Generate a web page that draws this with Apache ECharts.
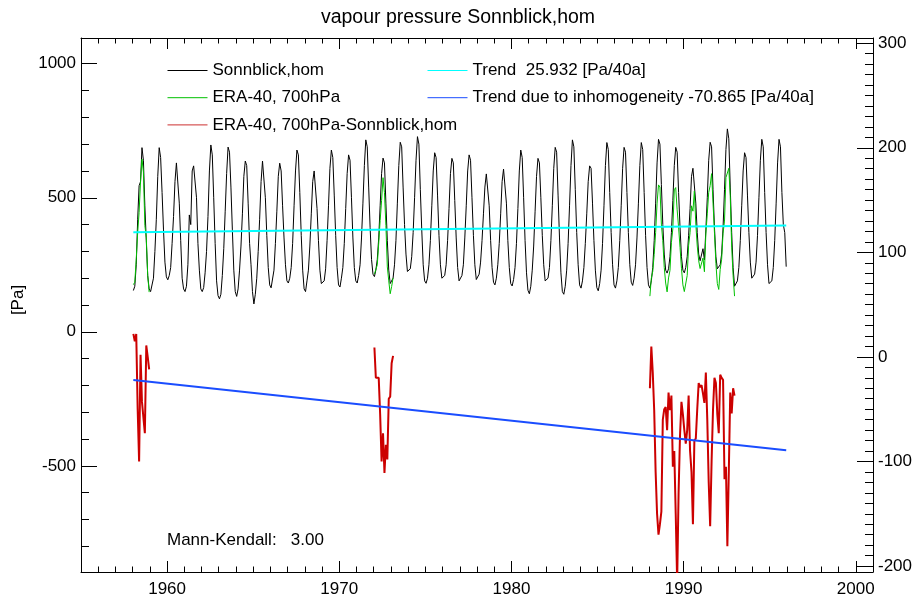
<!DOCTYPE html>
<html><head><meta charset="utf-8">
<script src="https://cdn.jsdelivr.net/npm/echarts@6/dist/echarts.min.js"></script>
<style>html,body{margin:0;padding:0;background:#fff}#c{width:916px;height:596px}</style>
</head><body><div id="c"></div>
<script>
// ---- data ----
const firstYear = 1958; // monthly values Jan..Dec, one row per year 1958..1995
const sonnblickMonthly = [
  [154, 170, 250, 420, 545, 560, 687, 640, 470, 340, 210, 160],
  [150, 145, 200, 300, 420, 580, 687, 650, 520, 380, 260, 205],
  [194, 210, 240, 330, 430, 560, 630, 637, 480, 340, 200, 160],
  [150, 170, 250, 436, 400, 600, 619, 612, 500, 330, 230, 160],
  [150, 165, 220, 300, 430, 600, 697, 660, 500, 330, 190, 135],
  [123, 140, 210, 310, 450, 590, 689, 670, 540, 380, 230, 150],
  [132, 160, 230, 320, 440, 580, 637, 620, 480, 330, 250, 150],
  [104, 140, 200, 300, 420, 560, 637, 630, 500, 360, 240, 175],
  [164, 170, 230, 330, 450, 580, 629, 600, 470, 350, 250, 190],
  [182, 200, 240, 330, 470, 600, 678, 660, 520, 360, 230, 160],
  [150, 190, 230, 320, 440, 560, 600, 598, 460, 340, 230, 180],
  [173, 190, 235, 340, 470, 610, 678, 650, 510, 360, 240, 175],
  [167, 200, 240, 330, 460, 590, 660, 640, 500, 350, 240, 190],
  [182, 210, 250, 350, 480, 620, 716, 690, 540, 390, 270, 215],
  [206, 230, 270, 350, 470, 590, 648, 630, 480, 340, 230, 180],
  [175, 200, 250, 340, 480, 620, 707, 690, 540, 400, 290, 225],
  [220, 235, 280, 370, 500, 640, 728, 700, 530, 380, 250, 190],
  [181, 200, 250, 340, 470, 600, 668, 650, 510, 360, 250, 200],
  [194, 210, 250, 340, 460, 590, 647, 630, 490, 350, 240, 190],
  [183, 210, 250, 350, 470, 600, 660, 640, 500, 360, 250, 195],
  [190, 215, 260, 340, 440, 540, 589, 585, 470, 340, 240, 185],
  [175, 200, 250, 330, 440, 560, 607, 600, 480, 340, 240, 180],
  [171, 195, 240, 330, 460, 600, 678, 650, 500, 340, 220, 155],
  [142, 170, 230, 320, 450, 580, 647, 630, 500, 360, 250, 190],
  [183, 200, 240, 340, 470, 610, 688, 670, 510, 350, 220, 150],
  [140, 170, 230, 330, 470, 620, 716, 690, 530, 370, 250, 175],
  [163, 190, 240, 330, 440, 560, 619, 610, 480, 340, 230, 165],
  [153, 180, 230, 330, 470, 620, 706, 680, 520, 370, 250, 175],
  [163, 190, 240, 340, 470, 610, 688, 670, 520, 370, 250, 185],
  [173, 200, 250, 350, 480, 620, 706, 680, 520, 360, 240, 175],
  [163, 190, 240, 340, 480, 630, 718, 700, 550, 400, 290, 230],
  [219, 235, 280, 370, 490, 620, 688, 670, 520, 390, 280, 230],
  [220, 240, 280, 360, 460, 580, 610, 605, 480, 370, 290, 265],
  [270, 310, 268, 380, 500, 640, 707, 690, 530, 390, 280, 235],
  [231, 250, 290, 390, 530, 680, 757, 720, 540, 370, 240, 170],
  [163, 190, 240, 340, 470, 600, 668, 650, 510, 370, 260, 200],
  [194, 215, 260, 360, 500, 640, 718, 690, 520, 370, 250, 180],
  [173, 190, 240, 340, 480, 630, 718, 690, 520, 400, 370, 243]
];
// ERA-40 minus Sonnblick (right axis), monthly, segments starting in January of the given year
const diffStartYears = [1958, 1972, 1988];
const diff1958 = [22, 15, 22, -50, -100, 2, -43, -44, -73, 11, 0, -12];
const diff1972 = [9, -20, -20, -20, -55, -100, -73, -111, -84, -98, -40, -38, -6, 1];
const diff1988 = [-30, 10, -15, -51, -110, -150, -170, -160, -148, -60, -50, -48,
  -70, -34, -51, -37, -105, -90, -150, -215, -130, -75, -43, -55,
  -70, -83, -70, -37, -90, -110, -160, -80, -78, -50, -25, -29,
  -27, -35, -44, -15, -60, -120, -162, -100, -50, -20, -25, -55,
  -73, -17, -20, -22, -117, -105, -181, -110, -34, -54, -30, -37];
const trendX = [1958.04, 1995.96];
const trendHom = [371.6, 396.2];
const trendInhom = [-22.0, -89.3];
const xMajorTicks = [1960, 1970, 1980, 1990, 2000];
const leftMajorTicks = [-500, 0, 500, 1000];
const rightMajorTicks = [-200, -100, 0, 100, 200, 300];
const names = ['Sonnblick,hom', 'ERA-40, 700hPa', 'ERA-40, 700hPa-Sonnblick,hom',
  'Trend  25.932 [Pa/40a]', 'Trend due to inhomogeneity -70.865 [Pa/40a]'];

// ---- build ----
const monthX = (y, m) => y + (m + 0.5) / 12;
const blackData = [];
sonnblickMonthly.forEach((row, yi) => row.forEach((v, m) => blackData.push([monthX(firstYear + yi, m), v])));
const diffSegs = [diff1958, diff1972, diff1988];
const redSegs = [], greenSegs = [];
diffSegs.forEach((seg, si) => {
  const r = [], g = [];
  seg.forEach((d, k) => {
    const idx = (diffStartYears[si] - firstYear) * 12 + k;
    const yr = firstYear + Math.floor(idx / 12), m = idx % 12;
    const s = sonnblickMonthly[Math.floor(idx / 12)][m];
    r.push([monthX(yr, m), d]);
    g.push([monthX(yr, m), s + d]);
  });
  redSegs.push(r); greenSegs.push(g);
});
function range(a, b, s) { const o = []; for (let v = a; v <= b + 1e-9; v += s) o.push(Math.round(v * 1000) / 1000); return o; }
const xMinorTicks = range(1956, 2000, 1);
const leftMinorTicks = range(-800, 1000, 100);
const rightMinorTicks = range(-200, 300, 10);

const FONT = "'Liberation Sans', Arial, Helvetica, sans-serif";
const BLACK = '#000';
const X0 = 1955, X1 = 2001, L0 = -896, L1 = 1096, R0 = -205.7, R1 = 305;
function axis(dim, pos, min, max, ticks, len, showLine, labels) {
  return {
    type: 'value', position: pos, min: min, max: max,
    axisLine: { show: showLine, onZero: false, lineStyle: { color: BLACK, width: 1 } },
    axisTick: { show: true, inside: true, length: len, customValues: ticks, lineStyle: { color: BLACK, width: 1 } },
    axisLabel: labels ? { show: true, customValues: ticks, color: BLACK, fontSize: 17, fontFamily: FONT,
      margin: dim === 'x' ? 9 : 5, formatter: v => String(v) } : { show: false },
    splitLine: { show: false }
  };
}
const chart = echarts.init(document.getElementById('c'), null, { renderer: 'canvas' });
const lineS = (name, data, color, width, yi, z) => ({
  type: 'line', name: name, data: data, xAxisIndex: 0, yAxisIndex: yi, symbol: 'none', showSymbol: false,
  lineStyle: { color: color, width: width }, itemStyle: { color: color }, z: z, animation: false, silent: true
});
const series = [lineS(names[0], blackData, '#000000', 1, 0, 2)];
greenSegs.forEach(g => series.push(lineS(names[1], g, '#00c000', 1, 0, 3)));
redSegs.forEach(r => series.push(lineS(names[2], r, '#cc0000', 2, 2, 4)));
series.push(lineS(names[3], [[trendX[0], trendHom[0]], [trendX[1], trendHom[1]]], '#00ffff', 2, 0, 5));
series.push(lineS(names[4], [[trendX[0], trendInhom[0]], [trendX[1], trendInhom[1]]], '#1a4dff', 2, 2, 6));

const legendCommon = {
  orient: 'vertical', top: 62, itemWidth: 40, itemHeight: 16, itemGap: 10.2, padding: 0,
  selectedMode: false, textStyle: { fontSize: 17, color: BLACK, fontFamily: FONT },
  lineStyle: { width: 1 }, itemStyle: { opacity: 0, borderWidth: 0 }
};
chart.setOption({
  animation: false,
  textStyle: { fontFamily: FONT },
  grid: { left: 81, right: 43, top: 38, bottom: 24, containLabel: false, outerBoundsMode: 'none' },
  xAxis: [
    axis('x', 'bottom', X0, X1, xMajorTicks, 11, true, true),
    axis('x', 'bottom', X0, X1, xMinorTicks, 5.5, false, false),
    axis('x', 'top', X0, X1, xMajorTicks, 11, true, false),
    axis('x', 'top', X0, X1, xMinorTicks, 5.5, false, false)
  ],
  yAxis: [
    axis('y', 'left', L0, L1, leftMajorTicks, 16, true, true),
    axis('y', 'left', L0, L1, leftMinorTicks, 8, false, false),
    axis('y', 'right', R0, R1, rightMajorTicks, 16, true, true),
    axis('y', 'right', R0, R1, rightMinorTicks, 8, false, false)
  ],
  legend: [
    Object.assign({}, legendCommon, { left: 167, data: [
      { name: names[0], lineStyle: { color: '#000000' } },
      { name: names[1], lineStyle: { color: '#00c000' } },
      { name: names[2], lineStyle: { color: '#cc3030' } }] }),
    Object.assign({}, legendCommon, { left: 427, data: [
      { name: names[3], lineStyle: { color: '#00ffff' } },
      { name: names[4], lineStyle: { color: '#1a4dff' } }] })
  ],
  graphic: [
    { type: 'text', left: 'center', top: 8, style: { text: 'vapour pressure Sonnblick,hom', fontSize: 19.5, fontFamily: FONT, fill: BLACK } },
    { type: 'text', x: 18, y: 300, rotation: Math.PI / 2, style: { text: '[Pa]', fontSize: 17, fontFamily: FONT, fill: BLACK, align: 'center', verticalAlign: 'middle' } },
    { type: 'text', x: 167, y: 540, style: { text: 'Mann-Kendall:   3.00', fontSize: 17, fontFamily: FONT, fill: BLACK, verticalAlign: 'middle' } }
  ],
  series: series
});
</script></body></html>
